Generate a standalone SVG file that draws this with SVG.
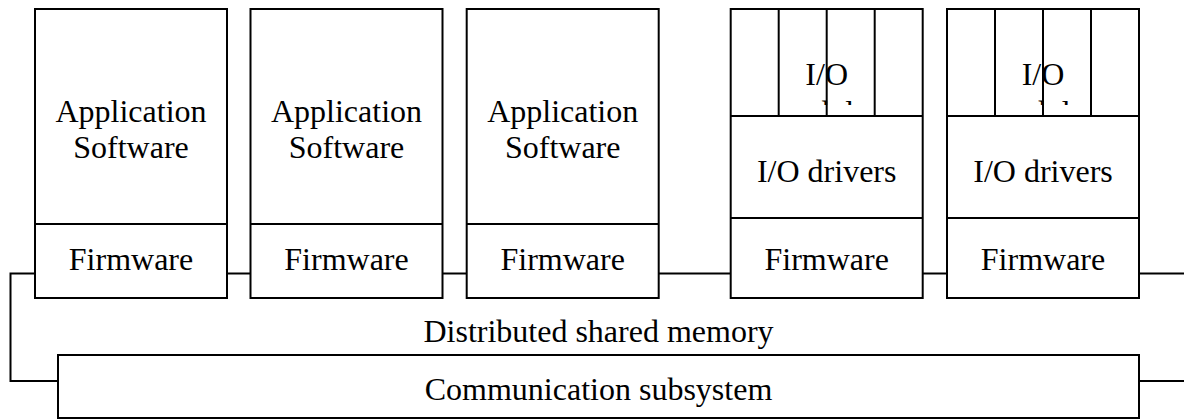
<svg xmlns="http://www.w3.org/2000/svg" width="1184" height="419" viewBox="0 0 1184 419">
<style>
.b{fill:#fff;stroke:#000;stroke-width:2}
.l{fill:none;stroke:#000;stroke-width:2}
.t{font-family:"Liberation Serif","Times New Roman",serif;font-size:32px;fill:#000;text-anchor:middle}
</style>
<defs>
<clipPath id="c4"><rect x="731" y="9" width="192" height="96"/></clipPath>
<clipPath id="c5"><rect x="947" y="9" width="192" height="96"/></clipPath>
</defs>
<rect width="1184" height="419" fill="#fff"/>
<g id="connectors">
<polyline class="l" points="35,273.5 10.5,273.5 10.5,381 58,381"/>
<line class="l" x1="227" y1="273.5" x2="250.5" y2="273.5"/>
<line class="l" x1="442.5" y1="273.5" x2="466.7" y2="273.5"/>
<line class="l" x1="658.7" y1="273.5" x2="730.7" y2="273.5"/>
<line class="l" x1="922.7" y1="273.5" x2="947" y2="273.5"/>
<line class="l" x1="1139" y1="273.5" x2="1184" y2="273.5"/>
<line class="l" x1="1139" y1="381" x2="1184" y2="381"/>
</g>
<g id="node1">
<rect class="b" x="35" y="9" width="192" height="289"/>
<line class="l" x1="35" y1="224" x2="227" y2="224"/>
<text class="t" x="131" y="121.5">Application</text>
<text class="t" x="131" y="157.5">Software</text>
<text class="t" x="131" y="270">Firmware</text>
</g>
<g id="node2">
<rect class="b" x="250.5" y="9" width="192" height="289"/>
<line class="l" x1="250.5" y1="224" x2="442.5" y2="224"/>
<text class="t" x="346.5" y="121.5">Application</text>
<text class="t" x="346.5" y="157.5">Software</text>
<text class="t" x="346.5" y="270">Firmware</text>
</g>
<g id="node3">
<rect class="b" x="466.7" y="9" width="192" height="289"/>
<line class="l" x1="466.7" y1="224" x2="658.7" y2="224"/>
<text class="t" x="562.7" y="121.5">Application</text>
<text class="t" x="562.7" y="157.5">Software</text>
<text class="t" x="562.7" y="270">Firmware</text>
</g>
<g id="node4">
<rect class="b" x="730.7" y="9" width="192" height="289"/>
<text class="t" x="826.7" y="85">I/O</text>
<text class="t" x="826.7" y="123" clip-path="url(#c4)">modules</text>
<line class="l" x1="778.7" y1="9" x2="778.7" y2="116"/>
<line class="l" x1="826.7" y1="9" x2="826.7" y2="116"/>
<line class="l" x1="874.7" y1="9" x2="874.7" y2="116"/>
<line class="l" x1="730.7" y1="116" x2="922.7" y2="116"/>
<line class="l" x1="730.7" y1="218" x2="922.7" y2="218"/>
<text class="t" x="826.7" y="181.5">I/O drivers</text>
<text class="t" x="826.7" y="270">Firmware</text>
</g>
<g id="node5">
<rect class="b" x="947" y="9" width="192" height="289"/>
<text class="t" x="1043" y="85">I/O</text>
<text class="t" x="1043" y="123" clip-path="url(#c5)">modules</text>
<line class="l" x1="995" y1="9" x2="995" y2="116"/>
<line class="l" x1="1043" y1="9" x2="1043" y2="116"/>
<line class="l" x1="1091" y1="9" x2="1091" y2="116"/>
<line class="l" x1="947" y1="116" x2="1139" y2="116"/>
<line class="l" x1="947" y1="218" x2="1139" y2="218"/>
<text class="t" x="1043" y="181.5">I/O drivers</text>
<text class="t" x="1043" y="270">Firmware</text>
</g>
<g id="dsm">
<text class="t" x="598.5" y="342">Distributed shared memory</text>
</g>
<g id="comm">
<rect class="b" x="58" y="355" width="1081" height="63"/>
<text class="t" x="598.5" y="399.5">Communication subsystem</text>
</g>
</svg>
